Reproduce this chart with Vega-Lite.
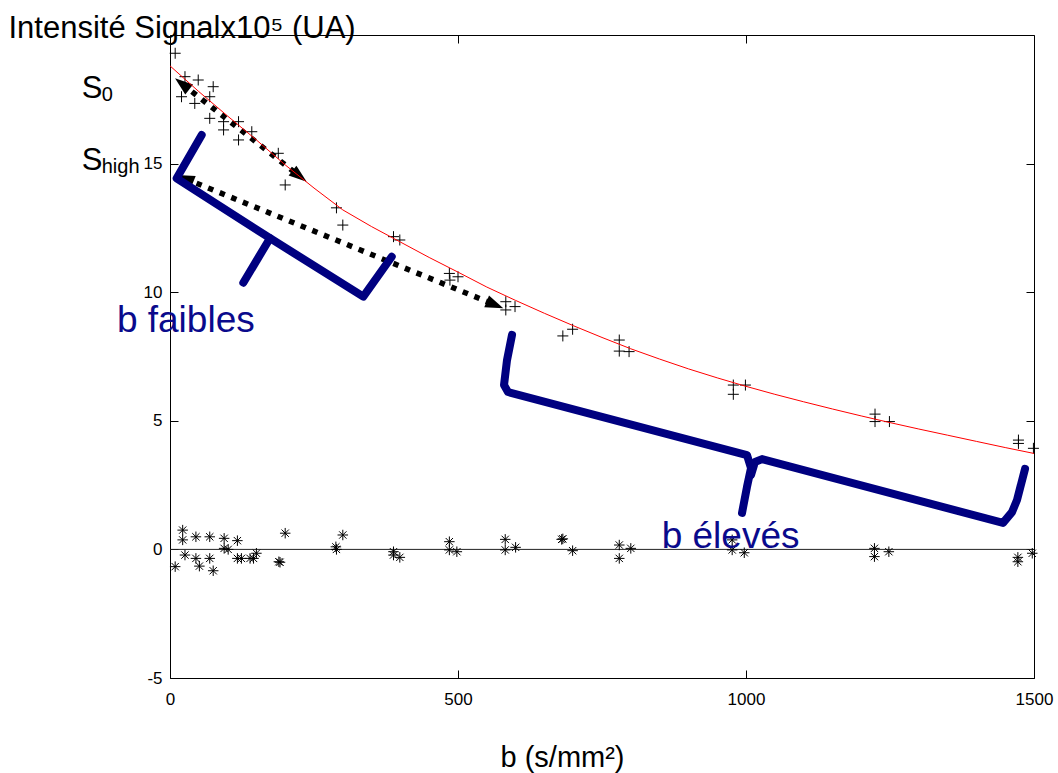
{
  "$schema": "https://vega.github.io/schema/vega-lite/v6.json",
  "width": 864,
  "height": 643,
  "autosize": {"type": "none"},
  "padding": {"left": 170, "top": 35, "right": 24, "bottom": 95},
  "background": "white",
  "config": {
    "view": {"stroke": "black", "strokeWidth": 1},
    "axis": {
      "domain": false,
      "grid": false,
      "tickSize": -8,
      "tickColor": "black",
      "tickWidth": 1,
      "labelFont": "Liberation Sans",
      "labelFontSize": 17,
      "labelColor": "black",
      "titleFont": "Liberation Sans",
      "titleFontWeight": "normal",
      "titleColor": "black"
    }
  },
  "datasets": {
    "fit": [
      {"b": 0, "y": 18.8}, {"b": 50, "y": 17.8}, {"b": 100, "y": 16.85}, {"b": 150, "y": 15.92},
      {"b": 200, "y": 14.95}, {"b": 250, "y": 14.05}, {"b": 300, "y": 13.2}, {"b": 350, "y": 12.55},
      {"b": 400, "y": 11.95}, {"b": 450, "y": 11.35}, {"b": 500, "y": 10.78}, {"b": 550, "y": 10.2},
      {"b": 600, "y": 9.68}, {"b": 650, "y": 9.18}, {"b": 700, "y": 8.7}, {"b": 750, "y": 8.24},
      {"b": 800, "y": 7.8}, {"b": 850, "y": 7.4}, {"b": 900, "y": 7.02}, {"b": 950, "y": 6.67},
      {"b": 1000, "y": 6.34}, {"b": 1050, "y": 6.03}, {"b": 1100, "y": 5.74}, {"b": 1150, "y": 5.46},
      {"b": 1200, "y": 5.19}, {"b": 1250, "y": 4.93}, {"b": 1300, "y": 4.68}, {"b": 1350, "y": 4.44},
      {"b": 1400, "y": 4.2}, {"b": 1450, "y": 3.96}, {"b": 1500, "y": 3.73}
    ],
    "signal": [
      {"b": 9, "y": 19.29}, {"b": 26, "y": 18.38}, {"b": 49, "y": 18.25}, {"b": 75, "y": 17.99},
      {"b": 20, "y": 17.6}, {"b": 43, "y": 17.34}, {"b": 69, "y": 17.6}, {"b": 69, "y": 16.76},
      {"b": 93, "y": 16.63}, {"b": 93, "y": 16.31}, {"b": 119, "y": 16.63}, {"b": 119, "y": 15.92},
      {"b": 142, "y": 16.24}, {"b": 188, "y": 15.4}, {"b": 200, "y": 14.17}, {"b": 289, "y": 13.28},
      {"b": 300, "y": 12.61}, {"b": 388, "y": 12.16}, {"b": 399, "y": 12.03}, {"b": 485, "y": 10.73},
      {"b": 500, "y": 10.6}, {"b": 486, "y": 10.47}, {"b": 583, "y": 9.63}, {"b": 583, "y": 9.31},
      {"b": 599, "y": 9.44}, {"b": 682, "y": 8.3}, {"b": 699, "y": 8.56}, {"b": 780, "y": 8.14},
      {"b": 780, "y": 7.71}, {"b": 797, "y": 7.69}, {"b": 978, "y": 6.39}, {"b": 978, "y": 6.03},
      {"b": 999, "y": 6.39}, {"b": 1224, "y": 5.26}, {"b": 1224, "y": 4.97}, {"b": 1249, "y": 4.97},
      {"b": 1473, "y": 4.25}, {"b": 1473, "y": 4.12}, {"b": 1499, "y": 3.93}
    ],
    "residual": [
      {"b": 9, "y": -0.67}, {"b": 22, "y": 0.75}, {"b": 22, "y": 0.37}, {"b": 26, "y": -0.22},
      {"b": 45, "y": 0.49}, {"b": 45, "y": -0.35}, {"b": 51, "y": -0.65}, {"b": 69, "y": 0.49},
      {"b": 69, "y": -0.35}, {"b": 75, "y": -0.83}, {"b": 94, "y": 0.43}, {"b": 94, "y": 0.04},
      {"b": 101, "y": 0.0}, {"b": 117, "y": 0.34}, {"b": 117, "y": -0.35}, {"b": 124, "y": -0.35},
      {"b": 139, "y": -0.35}, {"b": 145, "y": -0.35}, {"b": 150, "y": -0.15}, {"b": 189, "y": -0.48},
      {"b": 191, "y": -0.5}, {"b": 200, "y": 0.63}, {"b": 288, "y": 0.1}, {"b": 289, "y": 0.0},
      {"b": 300, "y": 0.56}, {"b": 388, "y": -0.09}, {"b": 388, "y": -0.22}, {"b": 399, "y": -0.31},
      {"b": 485, "y": 0.3}, {"b": 485, "y": -0.02}, {"b": 498, "y": -0.09}, {"b": 582, "y": 0.39},
      {"b": 582, "y": -0.02}, {"b": 600, "y": 0.08}, {"b": 680, "y": 0.39}, {"b": 682, "y": 0.41},
      {"b": 699, "y": -0.05}, {"b": 780, "y": 0.17}, {"b": 780, "y": -0.35}, {"b": 800, "y": 0.04},
      {"b": 976, "y": 0.37}, {"b": 976, "y": -0.02}, {"b": 997, "y": -0.13}, {"b": 1223, "y": 0.04},
      {"b": 1223, "y": -0.28}, {"b": 1248, "y": -0.09}, {"b": 1472, "y": -0.31}, {"b": 1472, "y": -0.48},
      {"b": 1497, "y": -0.15}
    ],
    "zero": [{"b": 0, "y": 0}, {"b": 1500, "y": 0}],
    "arrows": [
      {"id": "A", "k": 0, "b": 21.0, "y": 18.1, "ang": 218.1},
      {"id": "A", "k": 1, "b": 225.0, "y": 14.51, "ang": 38.1},
      {"id": "B", "k": 0, "b": 26.0, "y": 14.42, "ang": 202.2},
      {"id": "B", "k": 1, "b": 564.2, "y": 9.51, "ang": 22.2}
    ],
    "braces": [
      {"id": "1a", "k": 0, "b": 55.0, "y": 16.11},
      {"id": "1a", "k": 1, "b": 11.6, "y": 14.43},
      {"id": "1a", "k": 2, "b": 173.6, "y": 12.1},
      {"id": "1a", "k": 3, "b": 335.6, "y": 9.83},
      {"id": "1a", "k": 4, "b": 384.9, "y": 11.38},
      {"id": "1b", "k": 0, "b": 173.6, "y": 12.1},
      {"id": "1b", "k": 1, "b": 127.3, "y": 10.37},
      {"id": "2a", "k": 0, "b": 593.8, "y": 8.34},
      {"id": "2a", "k": 1, "b": 585.1, "y": 7.36},
      {"id": "2a", "k": 2, "b": 579.9, "y": 6.39},
      {"id": "2a", "k": 3, "b": 586.8, "y": 6.12},
      {"id": "2a", "k": 4, "b": 1001.7, "y": 3.67},
      {"id": "2a", "k": 5, "b": 1008.7, "y": 3.16},
      {"id": "2a", "k": 6, "b": 1001.7, "y": 2.43},
      {"id": "2a", "k": 7, "b": 993.1, "y": 1.42},
      {"id": "2b", "k": 0, "b": 1008.7, "y": 2.89},
      {"id": "2b", "k": 1, "b": 1015.6, "y": 3.4},
      {"id": "2b", "k": 2, "b": 1027.8, "y": 3.51},
      {"id": "2b", "k": 3, "b": 1446.2, "y": 1.03},
      {"id": "2b", "k": 4, "b": 1461.8, "y": 1.45},
      {"id": "2b", "k": 5, "b": 1470.5, "y": 1.92},
      {"id": "2b", "k": 6, "b": 1484.4, "y": 3.13}
    ],
    "bluetext": [
      {"b": -92.2, "y": 8.46, "t": "b faibles"},
      {"b": 853.6, "y": 0.04, "t": "b élevés"}
    ],
    "sbig": [
      {"b": -153.3, "y": 17.54, "t": "S"},
      {"b": -153.3, "y": 14.75, "t": "S"}
    ],
    "ssub": [
      {"b": -118.6, "y": 17.45, "t": "0"},
      {"b": -118.6, "y": 14.65, "t": "high"}
    ]
  },
  "resolve": {"axis": {"x": "independent", "y": "independent"}},
  "layer": [
    {
      "encoding": {
        "x": {
          "field": "b", "type": "quantitative",
          "scale": {"domain": [0, 1500], "nice": false, "zero": false},
          "axis": {
            "values": [0, 500, 1000, 1500], "labelPadding": 21, "labelFlush": false,
            "labelExpr": "datum.value + ''",
            "title": "b (s/mm²)", "titleFontSize": 29, "titleX": 392, "titleY": 88,
            "titleAlign": "center", "titleBaseline": "alphabetic"
          }
        },
        "y": {
          "field": "y", "type": "quantitative",
          "scale": {"domain": [-5, 20], "nice": false, "zero": false},
          "axis": {
            "values": [-5, 0, 5, 10, 15], "labelPadding": 16, "labelFlush": false,
            "labelExpr": "datum.value + ''",
            "title": "Intensité Signalx10⁵ (UA)", "titleAngle": 0, "titleAlign": "left",
            "titleBaseline": "alphabetic", "titleX": -162, "titleY": 2, "titleFontSize": 31
          }
        }
      },
      "layer": [
        {
          "data": {"name": "zero"},
          "mark": {"type": "line", "color": "#222222", "strokeWidth": 1}
        },
        {
          "data": {"name": "signal"},
          "mark": {"type": "point", "shape": "M-1,0L1,0M0,-1L0,1", "size": 121, "filled": false, "color": "black", "strokeWidth": 1, "opacity": 1}
        },
        {
          "data": {"name": "residual"},
          "mark": {"type": "point", "shape": "M-1,0L1,0M0,-1L0,1M-0.7,-0.7L0.7,0.7M-0.7,0.7L0.7,-0.7", "size": 110, "filled": false, "color": "black", "strokeWidth": 1, "opacity": 1}
        },
        {
          "data": {"name": "arrows"},
          "mark": {"type": "line", "color": "black", "strokeWidth": 5.5, "strokeDash": [5.5, 7], "strokeCap": "butt"},
          "encoding": {"detail": {"field": "id"}, "order": {"field": "k", "type": "quantitative"}}
        },
        {
          "data": {"name": "arrows"},
          "mark": {"type": "point", "shape": "M1,0L-1,-0.7L-1,0.7Z", "size": 324, "filled": true, "color": "black", "opacity": 1},
          "encoding": {"angle": {"field": "ang", "type": "quantitative", "scale": null}}
        },
        {
          "data": {"name": "braces"},
          "mark": {"type": "line", "color": "#000080", "strokeWidth": 8, "strokeCap": "round", "strokeJoin": "round", "interpolate": "linear"},
          "encoding": {"detail": {"field": "id"}, "order": {"field": "k", "type": "quantitative"}}
        },
        {
          "data": {"name": "bluetext"},
          "mark": {"type": "text", "align": "left", "baseline": "alphabetic", "font": "Liberation Sans", "fontSize": 37, "color": "#0a0a8c"},
          "encoding": {"text": {"field": "t"}}
        },
        {
          "data": {"name": "sbig"},
          "mark": {"type": "text", "align": "left", "baseline": "alphabetic", "font": "Liberation Sans", "fontSize": 31, "color": "black"},
          "encoding": {"text": {"field": "t"}}
        },
        {
          "data": {"name": "ssub"},
          "mark": {"type": "text", "align": "left", "baseline": "alphabetic", "font": "Liberation Sans", "fontSize": 20, "color": "black"},
          "encoding": {"text": {"field": "t"}}
        }
      ]
    },
    {
      "data": {"name": "fit"},
      "mark": {"type": "line", "color": "#ff0000", "strokeWidth": 1},
      "encoding": {
        "x": {
          "field": "b", "type": "quantitative",
          "scale": {"domain": [0, 1500], "nice": false, "zero": false},
          "axis": {"orient": "top", "labels": false, "title": null, "values": [0, 500, 1000, 1500]}
        },
        "y": {
          "field": "y", "type": "quantitative",
          "scale": {"domain": [-5, 20], "nice": false, "zero": false},
          "axis": {"orient": "right", "labels": false, "title": null, "values": [-5, 0, 5, 10, 15]}
        }
      }
    }
  ]
}
